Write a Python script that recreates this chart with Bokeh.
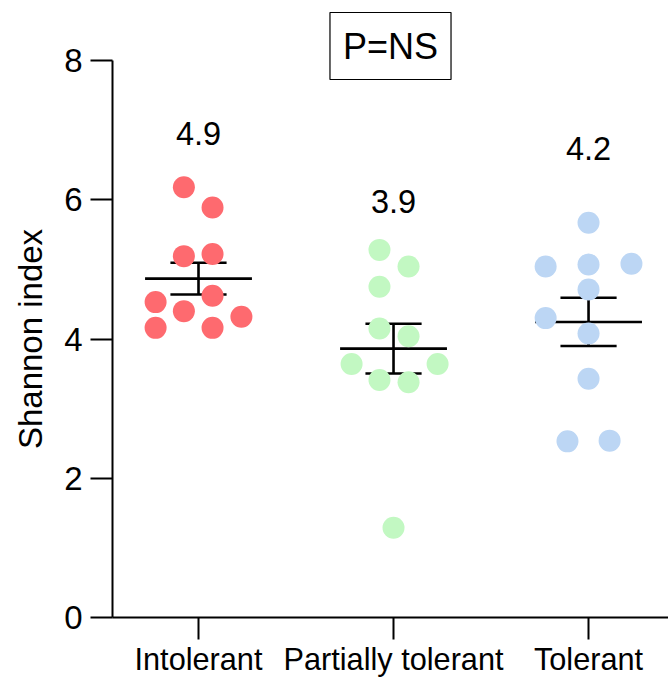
import numpy as np
from bokeh.plotting import figure
from bokeh.models import Range1d, FixedTicker, Label, ColumnDataSource, Title
from bokeh.embed import file_html
from bokeh.resources import INLINE

# ---- data ----
categories = ["Intolerant", "Partially tolerant", "Tolerant"]
intolerant = [6.18, 5.89, 5.19, 5.22, 4.53, 4.40, 4.62, 4.32, 4.16, 4.16]
partially = [5.28, 5.04, 4.75, 4.15, 4.04, 3.64, 3.64, 3.41, 3.38, 1.29]
tolerant = [5.67, 5.04, 5.07, 5.08, 4.71, 4.30, 4.08, 3.43, 2.53, 2.54]
# beeswarm offsets (category units)
intolerant_jit = [-0.075, 0.072, -0.075, 0.072, -0.22, -0.075, 0.072, 0.22, -0.22, 0.072]
partially_jit = [-0.072, 0.077, -0.072, -0.072, 0.077, -0.215, 0.226, -0.072, 0.077, 0.0]
tolerant_jit = [0.0, -0.22, 0.0, 0.22, 0.0, -0.22, 0.0, 0.0, -0.108, 0.108]
y_ticks = [0, 2, 4, 6, 8]
y_title = "Shannon index"
p_text = "P=NS"

series = [intolerant, partially, tolerant]
jitters = [intolerant_jit, partially_jit, tolerant_jit]
colors = ["#FE6A6F", "#C2F8C2", "#BCD6F4"]
mean_label_y = [6.95, 5.97, 6.74]

FONT = "Liberation Sans"

p = figure(width=668, height=679, output_backend="svg", toolbar_location=None,
           x_range=Range1d(-0.441, 2.41), y_range=Range1d(0, 8),
           min_border_left=112, min_border_right=0, min_border_top=60,
           min_border_bottom=61)
p.outline_line_color = None
p.xgrid.visible = False
p.ygrid.visible = False
p.background_fill_color = "white"
p.border_fill_color = "white"

# P=NS boxed title above the plot
t = Title(text=p_text, align="center", offset=3, standoff=-38,
          text_font=FONT, text_font_size="36px", text_font_style="normal",
          text_color="black", border_line_color="black", border_line_width=1.2,
          background_fill_color="white", padding=13)
p.add_layout(t, "above")

# mean +/- SEM
for i, vals in enumerate(series):
    v = np.array(vals)
    m = v.mean()
    sem = v.std(ddof=1) / np.sqrt(len(v))
    p.segment(x0=[i - 0.274], x1=[i + 0.274], y0=[m], y1=[m], line_color="black", line_width=2.6)
    p.segment(x0=[i], x1=[i], y0=[m - sem], y1=[m + sem], line_color="black", line_width=2.6)
    p.segment(x0=[i - 0.144, i - 0.144], x1=[i + 0.144, i + 0.144],
              y0=[m - sem, m + sem], y1=[m - sem, m + sem], line_color="black", line_width=2.6)
    p.add_layout(Label(x=i, y=mean_label_y[i], text=f"{m:.1f}", text_align="center",
                       text_baseline="middle", text_font=FONT, text_font_size="32.5px",
                       text_color="black"))

for i, vals in enumerate(series):
    xs = [i + j for j in jitters[i]]
    src = ColumnDataSource(dict(x=xs, y=vals))
    p.scatter("x", "y", source=src, size=22, fill_color=colors[i], line_color=None)

# axes
ya = p.yaxis[0]
ya.ticker = FixedTicker(ticks=y_ticks)
ya.axis_label = y_title
ya.axis_label_text_font = FONT
ya.axis_label_text_font_size = "33px"
ya.axis_label_text_font_style = "normal"
ya.axis_label_text_color = "black"
ya.axis_label_standoff = 12
ya.major_label_text_font = FONT
ya.major_label_text_font_size = "33px"
ya.major_label_text_color = "black"
ya.major_label_standoff = 8
ya.axis_line_width = 2
ya.axis_line_color = "black"
ya.major_tick_line_width = 2
ya.major_tick_line_color = "black"
ya.major_tick_out = 22
ya.major_tick_in = 0
ya.minor_tick_line_color = None

xa = p.xaxis[0]
xa.ticker = FixedTicker(ticks=[0, 1, 2])
xa.major_label_overrides = {0: categories[0], 1: categories[1], 2: categories[2]}
xa.major_label_text_font = FONT
xa.major_label_text_font_size = "30.7px"
xa.major_label_text_color = "black"
xa.major_label_standoff = 2
xa.axis_line_width = 2
xa.axis_line_color = "black"
xa.major_tick_line_width = 2
xa.major_tick_line_color = "black"
xa.major_tick_out = 22
xa.major_tick_in = 0
xa.minor_tick_line_color = None

open("out.html", "w").write(file_html(p, INLINE))
